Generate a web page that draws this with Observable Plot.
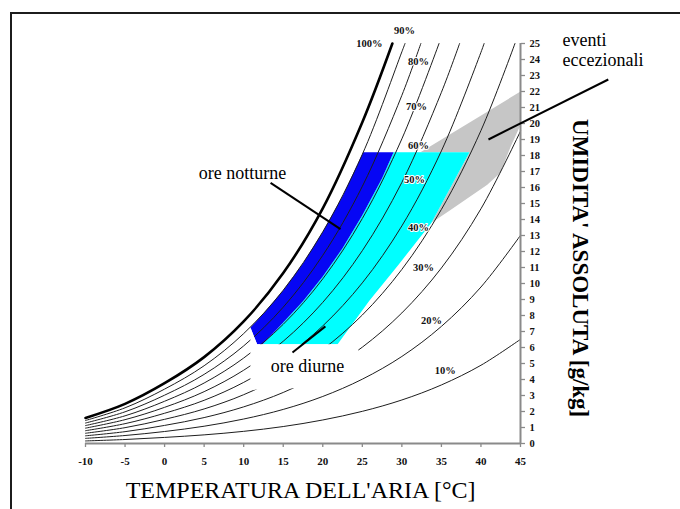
<!DOCTYPE html>
<html>
<head>
<meta charset="utf-8">
<script src="https://cdn.jsdelivr.net/npm/d3@7"></script>
<script src="https://cdn.jsdelivr.net/npm/@observablehq/plot@0.6"></script>
<style>
html,body{margin:0;padding:0;background:#fff;overflow:hidden;width:680px;height:509px;}
#wrap{position:relative;width:680px;height:509px;}
#wrap svg{position:absolute;left:0;top:0;}
#border{position:absolute;left:10px;top:12px;width:900px;height:700px;border-left:2px solid #1c1c1c;border-top:2px solid #1c1c1c;pointer-events:none;z-index:2;}
g[aria-label^="x-axis"] text{font-size:11px;font-weight:bold;fill:#111;stroke:none;}
g[aria-label^="y-axis"] text{font-size:10.5px;font-weight:bold;fill:#111;stroke:none;}
g[aria-label^="x-axis"] path, g[aria-label^="x-axis"] line,
g[aria-label^="y-axis"] path, g[aria-label^="y-axis"] line{stroke:#8a8a8a;stroke-width:1.3px;}
</style>
</head>
<body>
<div id="wrap"><div id="border"></div></div>
<script>
// ---- data ----
const temps = [-10, -5, 0, 5, 10, 15, 20, 25, 30, 35, 40, 45];
const xTicks = [-10, -5, 0, 5, 10, 15, 20, 25, 30, 35, 40, 45];
const yTicks = d3.range(0, 26);

const rhLevels = [100, 90, 80, 70, 60, 50, 40, 30, 20, 10];
const rh100 = [1.60, 2.48, 3.77, 5.40, 7.63, 10.65, 14.70, 20.08];
const rh90  = [1.44, 2.23, 3.40, 4.86, 6.87, 9.58, 13.23, 18.07, 24.48];
const rh80  = [1.28, 1.98, 3.02, 4.32, 6.10, 8.52, 11.76, 16.07, 21.76];
const rh70  = [1.12, 1.73, 2.64, 3.78, 5.34, 7.45, 10.29, 14.06, 19.04];
const rh60  = [0.96, 1.49, 2.26, 3.24, 4.58, 6.39, 8.82, 12.05, 16.32, 21.95];
const rh50  = [0.80, 1.24, 1.89, 2.70, 3.82, 5.32, 7.35, 10.04, 13.60, 18.29, 24.45];
const rh40  = [0.64, 0.99, 1.51, 2.16, 3.05, 4.26, 5.88, 8.03, 10.88, 14.63, 19.56];
const rh30  = [0.48, 0.74, 1.13, 1.62, 2.29, 3.19, 4.41, 6.02, 8.16, 10.97, 14.67, 19.52];
const rh20  = [0.32, 0.50, 0.75, 1.08, 1.53, 2.13, 2.94, 4.02, 5.44, 7.32, 9.78, 13.01];
const rh10  = [0.16, 0.25, 0.38, 0.54, 0.76, 1.06, 1.47, 2.01, 2.72, 3.66, 4.89, 6.51];
// temperature where each curve leaves the top of the chart (25 g/kg)
const rhTopT = [28.8, 30.4, 32.4, 34.7, 37.3, 40.4, 44.3, null, null, null];
const yTop = 25;

// curve labels
const rhLabels = ["100%", "90%", "80%", "70%", "60%", "50%", "40%", "30%", "20%", "10%"];
const rhLabelT = [25.9, 30.33, 32.1, 31.85, 32.1, 31.6, 32.1, 32.73, 33.74, 35.5];
const rhLabelX = [25.01, 25.83, 23.88, 21.06, 18.61, 16.48, 13.47, 11.02, 7.70, 4.56];

// shaded regions (temperature, absolute humidity)
const nightT = [10.85, 12.5, 15, 17.5, 20, 22.5, 25.1, 28.95, 27.5, 25, 22.5, 20, 17.5, 15, 12.4, 11.7];
const nightX = [7.25, 8.12, 9.58, 11.27, 13.23, 15.47, 18.2, 18.2, 16.58, 14.26, 12.2, 10.44, 8.89, 7.56, 6.2, 6.2];
const dayT = [28.95, 38.55, 33.75, 29.55, 25.91, 21.87, 12.4, 15, 17.5, 20, 22.5, 25, 27.5];
const dayX = [18.2, 18.2, 13.79, 11.16, 8.93, 6.2, 6.2, 7.56, 8.89, 10.44, 12.2, 14.26, 16.58];
const eventT = [32.35, 45, 45, 43.75, 42.46, 40.8, 36.15, 33.75, 38.55];
const eventX = [18.2, 22.0, 19.9, 18.55, 16.92, 16.17, 14.6, 13.79, 18.2];
// white label area behind "ore diurne"
const maskT = [10.85, 11.7, 24.5, 24.5, 21.5, 10.85];
const maskX = [7.25, 6.2, 6.2, 4.45, 3.55, 3.35];

// annotations
const centerNotes = ["ore notturne", "ore diurne"];
const centerNoteT = [9.85, 18.07];
const centerNoteX = [16.91, 4.82];
const startNotes = ["eventi", "eccezionali"];
const startNoteT = [50.31, 50.31];
const startNoteX = [25.21, 23.95];
const ptrT1 = [13.4, 16.17, 56.1];
const ptrX1 = [16.29, 5.69, 22.75];
const ptrT2 = [22.24, 20.33, 40.95];
const ptrX2 = [13.4, 7.32, 19.0];

const xTitle = "TEMPERATURA DELL'ARIA [°C]";
const xTitlePos = [17.2, -2.95];
const yTitle = "UMIDITA' ASSOLUTA [g/kg]";
const yTitlePos = [52.6, 10.96];

// ---- build tables ----
const curveVals = [rh100, rh90, rh80, rh70, rh60, rh50, rh40, rh30, rh20, rh10];
const curves = rhLevels.flatMap((rh, i) => {
  const pts = curveVals[i].map((v, j) => ({rh, t: temps[j], x: v}));
  if (rhTopT[i] != null) pts.push({rh, t: rhTopT[i], x: yTop});
  return pts;
});
const poly = (T, X) => T.map((t, i) => ({t, x: X[i]}));
const nightPoly = poly(nightT, nightX);
const dayPoly = poly(dayT, dayX);
const eventPoly = poly(eventT, eventX);
const maskPoly = poly(maskT, maskX);
const cNotes = centerNotes.map((s, i) => ({s, t: centerNoteT[i], x: centerNoteX[i]}));
const sNotes = startNotes.map((s, i) => ({s, t: startNoteT[i], x: startNoteX[i]}));
const ptrs = ptrT1.map((t, i) => ({t1: t, x1: ptrX1[i], t2: ptrT2[i], x2: ptrX2[i]}));
const labs = rhLabels.map((s, i) => ({s, t: rhLabelT[i], x: rhLabelX[i]}));

const serif = "'Liberation Serif', 'Times New Roman', 'DejaVu Serif', serif";

const chart = Plot.plot({
  width: 680,
  height: 509,
  marginLeft: 85,
  marginRight: 160,
  marginTop: 43,
  marginBottom: 66,
  style: {fontFamily: serif, background: "transparent", color: "#111"},
  x: {domain: [-10, 45], ticks: xTicks, tickSize: 4, tickPadding: 10, label: null, tickFormat: d => String(d)},
  y: {domain: [0, 25], ticks: yTicks, axis: "right", tickSize: 4, tickPadding: 5, label: null, tickFormat: d => String(d)},
  marks: [
    Plot.line(eventPoly, {x: "t", y: "x", fill: "#c6c6c6", stroke: "none"}),
    Plot.line(dayPoly, {x: "t", y: "x", fill: "#00ffff", stroke: "none"}),
    Plot.line(nightPoly, {x: "t", y: "x", fill: "#0606f4", stroke: "none"}),
    Plot.line(curves.filter(d => d.rh !== 100), {x: "t", y: "x", z: "rh", curve: "catmull-rom", stroke: "#1e1e1e", strokeWidth: 1}),
    Plot.line(curves.filter(d => d.rh === 100), {x: "t", y: "x", curve: "catmull-rom", stroke: "#000", strokeWidth: 2.6}),
    Plot.line(maskPoly, {x: "t", y: "x", fill: "#fff", stroke: "none"}),
    Plot.ruleY([0], {stroke: "#8a8a8a", strokeWidth: 2}),
    Plot.ruleX([45], {stroke: "#8a8a8a", strokeWidth: 2}),
    Plot.text(labs, {x: "t", y: "x", text: "s", fontSize: 10.5, fontWeight: "bold", fill: "#111", stroke: "#fff", strokeWidth: 2, lineAnchor: "middle"}),
    Plot.link(ptrs, {x1: "t1", y1: "x1", x2: "t2", y2: "x2", stroke: "#000", strokeWidth: 2}),
    Plot.text(cNotes, {x: "t", y: "x", text: "s", textAnchor: "middle", fontSize: 18, fill: "#000", lineAnchor: "middle"}),
    Plot.text(sNotes, {x: "t", y: "x", text: "s", textAnchor: "start", fontSize: 18, fill: "#000", lineAnchor: "middle"}),
    Plot.text([xTitle], {x: () => xTitlePos[0], y: () => xTitlePos[1], fontSize: 24, fill: "#000", lineAnchor: "middle"}),
    Plot.text([yTitle], {x: () => yTitlePos[0], y: () => yTitlePos[1], rotate: 90, fontSize: 23, fontWeight: "bold", fill: "#000", lineAnchor: "middle"})
  ]
});
document.getElementById("wrap").prepend(chart);
</script>
</body>
</html>
